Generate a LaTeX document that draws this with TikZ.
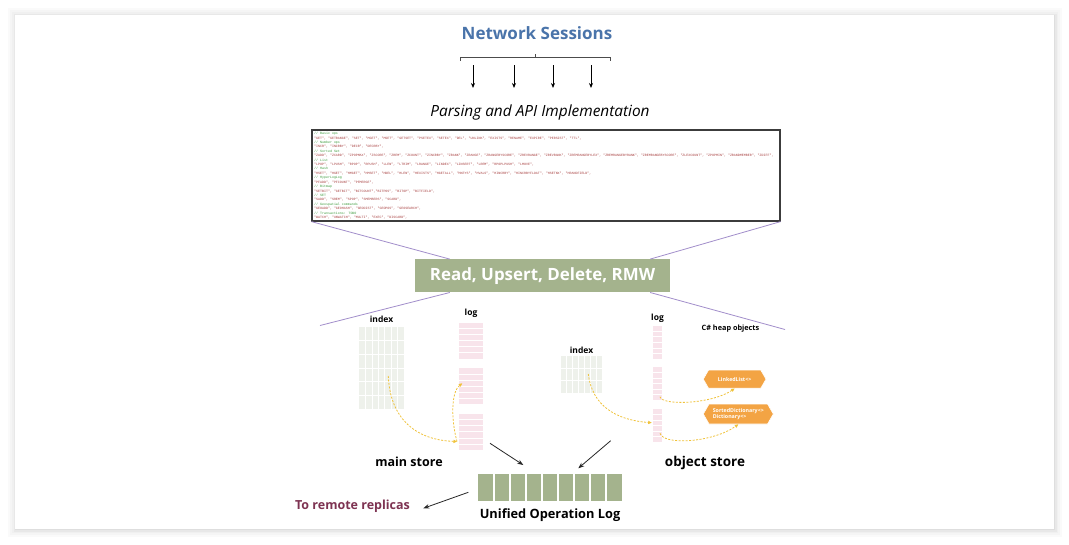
\documentclass[tikz,border=0pt]{standalone}
\usepackage{fontspec}
\setmainfont{Open Sans}
\newfontfamily\codefont[Ligatures=TeXOff]{Liberation Mono}
\usetikzlibrary{arrows.meta,shapes.symbols,calc}
\definecolor{nsblue}{HTML}{4A74AA}
\definecolor{sage}{HTML}{A4B38D}
\definecolor{idxgray}{HTML}{EEF1EB}
\definecolor{logpink}{HTML}{F8E4EB}
\definecolor{heaporange}{HTML}{F3A444}
\definecolor{dashyellow}{HTML}{F0C23A}
\definecolor{maroon}{HTML}{7E3352}
\definecolor{lavender}{HTML}{A28ECB}
\definecolor{codegreen}{HTML}{3A9A3A}
\definecolor{codered}{HTML}{A84040}
\definecolor{codeborder}{HTML}{3C3C3C}
\newcommand\gcom[1]{{\color{codegreen}#1}}
\newcommand\rstr[1]{{\color{codered}#1}}
\newcommand\gridcols[2]{%
  \pgfmathtruncatemacro\gcA{#2-1}%
  \foreach \i in {1,...,\gcA}{\draw[gridline] ($(#1.north west)!\i/#2!(#1.north east)$) -- ($(#1.south west)!\i/#2!(#1.south east)$);}%
}
\newcommand\gridrows[2]{%
  \pgfmathtruncatemacro\gcB{#2-1}%
  \foreach \j in {1,...,\gcB}{\draw[gridline] ($(#1.north west)!\j/#2!(#1.south west)$) -- ($(#1.north east)!\j/#2!(#1.south east)$);}%
}
\tikzset{
  gridline/.style={draw=white, line width=0.7pt},
  idxbox/.style={fill=idxgray, inner sep=0pt},
  logbox/.style={fill=logpink, inner sep=0pt},
  lbl/.style={font=\bfseries\fontsize{8.5}{10}\selectfont, inner sep=0pt},
  biglbl/.style={font=\bfseries\fontsize{12.5}{15}\selectfont, inner sep=0pt},
  blackarrow/.style={draw=black!85, line width=0.8pt, -{Stealth[length=6pt,width=4.5pt]}},
  yarrow/.style={draw=dashyellow, line width=0.8pt, dash pattern=on 2pt off 1.5pt, -{Triangle[length=3.5pt,width=3.2pt]}},
  purpline/.style={draw=lavender, line width=0.8pt},
  heap/.style={shape=signal, signal to=west and east, signal pointer angle=120, fill=heaporange, draw=white, line width=0.6pt, text=white, font=\bfseries\fontsize{5.3}{6.2}\selectfont, align=left, inner sep=1pt, minimum height=18pt},
}
\begin{document}
\begin{tikzpicture}[x=1pt,y=-1pt]
\useasboundingbox (0,0) rectangle (1069,544);
% page and panel with soft shadow
\fill[white] (0,0) rectangle (1069,544);
\fill[black!2] (8,8) rectangle (1062,537);
\fill[black!4] (10,10) rectangle (1060,535);
\fill[black!6] (12,12) rectangle (1058,533);
\fill[black!9] (13.5,13.5) rectangle (1056.5,531.5);
\fill[black!13] (14.5,14.5) rectangle (1055,530);
\fill[white] (15,15) rectangle (1054,529);

% title
\node[font=\bfseries\fontsize{17}{20}\selectfont, text=nsblue, inner sep=0pt] (ns) at (537,33) {Network Sessions};
% bracket
\draw[draw=black!70, line width=0.8pt] (460,60.5) -- (460,57) -- (610,57) -- (610,60.5);
\draw[draw=black!70, line width=0.8pt] (535.5,57) -- (535.5,53.5);
\foreach \k/\xx in {1/473,2/514,3/553,4/591}{
  \coordinate (s\k) at (\xx,65);
  \coordinate (e\k) at (\xx,88);
  \draw[draw=black, line width=0.8pt, -{Stealth[length=5pt,width=4pt]}] (s\k) -- (e\k);
}
\node[font=\itshape\fontsize{15.4}{18}\selectfont, inner sep=0pt] (parse) at (540,112) {Parsing and API Implementation};

% code box
\node[draw=codeborder, line width=1.2pt, fill=white, minimum width=468pt, minimum height=91pt, inner sep=0pt] (code) at (546,175.5) {};
\node[anchor=north west, align=left, inner sep=0pt, font=\codefont\fontsize{3.3}{4.42}\selectfont] (codetext) at (314,132) {%
\gcom{// Basic ops}\\
\rstr{"GET", "GETRANGE", "SET", "MGET", "MSET", "GETSET", "PSETEX", "SETEX", "DEL", "UNLINK", "EXISTS", "RENAME", "EXPIRE", "PERSIST", "TTL",}\\
\gcom{// Number ops}\\
\rstr{"INCR", "INCRBY", "DECR", "DECRBY",}\\
\gcom{// Sorted Set}\\
\rstr{"ZADD", "ZCARD", "ZPOPMAX", "ZSCORE", "ZREM", "ZCOUNT", "ZINCRBY", "ZRANK", "ZRANGE", "ZRANGEBYSCORE", "ZREVRANGE", "ZREVRANK", "ZREMRANGEBYLEX", "ZREMRANGEBYRANK", "ZREMRANGEBYSCORE", "ZLEXCOUNT", "ZPOPMIN", "ZRANDMEMBER", "ZDIFF",}\\
\gcom{// List}\\
\rstr{"LPOP", "LPUSH", "RPOP", "RPUSH", "LLEN", "LTRIM", "LRANGE", "LINDEX", "LINSERT", "LREM", "RPOPLPUSH", "LMOVE",}\\
\gcom{// Hash}\\
\rstr{"HSET", "HGET", "HMGET", "HMSET", "HDEL", "HLEN", "HEXISTS", "HGETALL", "HKEYS", "HVALS", "HINCRBY", "HINCRBYFLOAT", "HSETNX", "HRANDFIELD",}\\
\gcom{// HyperLogLog}\\
\rstr{"PFADD", "PFCOUNT", "PFMERGE",}\\
\gcom{// Bitmap}\\
\rstr{"SETBIT", "GETBIT", "BITCOUNT","BITPOS", "BITOP", "BITFIELD",}\\
\gcom{// SET}\\
\rstr{"SADD", "SREM", "SPOP", "SMEMBERS", "SCARD",}\\
\gcom{// Geospatial commands}\\
\rstr{"GEOADD", "GEOHASH", "GEODIST", "GEOPOS", "GEOSEARCH",}\\
\gcom{// Transactions: TODO}\\
\rstr{"WATCH", "UNWATCH", "MULTI", "EXEC", "DISCARD",}};

% operations box
\node[fill=sage, text=white, font=\bfseries\fontsize{16.9}{20}\selectfont, minimum width=255pt, minimum height=33pt, inner sep=0pt] (ops) at (542.5,275.8) {Read, Upsert, Delete, RMW};
\coordinate (ll) at (320,325.5);
\coordinate (lr) at (785,329.5);
\draw[purpline] (code.south west) -- ($(ops.north west)+(35,0)$);
\draw[purpline] (code.south east) -- ($(ops.north east)+(-20,0)$);
\draw[purpline] ($(ops.south west)+(35,0)$) -- (ll);
\draw[purpline] ($(ops.south east)+(-20,0)$) -- (lr);

% main store
\node[lbl] (mil) at (381.5,319) {index};
\node[lbl] (mll) at (471,313.5) {log};
\node[idxbox, minimum width=44.4pt, minimum height=81.7pt] (mi) at (381.5,368.15) {};
\gridcols{mi}{7}\gridrows{mi}{6}
\node[logbox, minimum width=23.4pt, minimum height=36pt] (ml1) at (471,340.7) {};
\node[logbox, minimum width=23.4pt, minimum height=36pt] (ml2) at (471,386.1) {};
\node[logbox, minimum width=23.4pt, minimum height=36pt] (ml3) at (471,431.8) {};
\gridrows{ml1}{6}\gridrows{ml2}{6}\gridrows{ml3}{6}
\coordinate (miP) at (388.3,376);
\coordinate (ml3P) at (457,441.5);
\coordinate (ml2P) at (462.3,383.3);
\draw[yarrow] (miP) .. controls (390,418) and (415,440) .. (ml3P);
\draw[yarrow] (ml3P) .. controls (451,420) and (451,392) .. (ml2P);
\node[biglbl] (msl) at (409,461.5) {main store};

% object store
\node[lbl] (oll) at (657.5,318.5) {log};
\node[lbl, font=\bfseries\fontsize{7.3}{9}\selectfont] (chl) at (730.5,328.5) {C\# heap objects};
\node[lbl] (oil) at (581.5,350.5) {index};
\node[idxbox, minimum width=40.7pt, minimum height=36.7pt] (oi) at (581.35,374.35) {};
\gridcols{oi}{7}\gridrows{oi}{3}
\node[logbox, minimum width=9.3pt, minimum height=32.7pt] (ol1) at (657.35,342.35) {};
\node[logbox, minimum width=9.3pt, minimum height=32.7pt] (ol2) at (657.35,383.65) {};
\node[logbox, minimum width=9.3pt, minimum height=32.4pt] (ol3) at (657.35,425.5) {};
\gridrows{ol1}{6}\gridrows{ol2}{6}\gridrows{ol3}{6}
\node[heap, minimum width=62.7pt] (h1) at (734.65,379.15) {LinkedList<>};
\node[heap, minimum width=70pt, minimum height=20pt] (h2) at (738.3,414) {SortedDictionary<>\\Dictionary<>};
\coordinate (oiP) at (588.3,374);
\coordinate (ol3P) at (651.7,422.7);
\coordinate (ol2P) at (660,396.7);
\coordinate (ol3Q) at (660,433.3);
\draw[yarrow] (oiP) .. controls (592,405) and (615,420) .. (ol3P);
\draw[yarrow] (ol2P) .. controls (662,406) and (712,404) .. (h1.south);
\draw[yarrow] (ol3Q) .. controls (664,446) and (714,442) .. (h2.south);
\node[biglbl, font=\bfseries\fontsize{13.5}{16}\selectfont] (osl) at (705,462.5) {object store};

% unified log
\node[fill=sage, minimum width=144pt, minimum height=27pt, inner sep=0pt] (ul) at (550,487.5) {};
\foreach \i in {1,...,8}{\draw[draw=white, line width=1.5pt] ($(ul.north west)!\i/9!(ul.north east)$) -- ($(ul.south west)!\i/9!(ul.south east)$);}
\node[biglbl, font=\bfseries\fontsize{12.8}{15}\selectfont] (ull) at (550,515) {Unified Operation Log};
\node[biglbl, text=maroon] (rr) at (352.5,506) {To remote replicas};
\coordinate (msA) at (490,443.3);
\coordinate (msB) at (523.3,465);
\coordinate (osA) at (610.7,440.7);
\coordinate (osB) at (578.3,468.3);
\coordinate (ulA) at (468.3,492.3);
\coordinate (rrB) at (423.3,508.3);
\draw[blackarrow] (msA) -- (msB);
\draw[blackarrow] (osA) -- (osB);
\draw[blackarrow] (ulA) -- (rrB);
\end{tikzpicture}
\end{document}
